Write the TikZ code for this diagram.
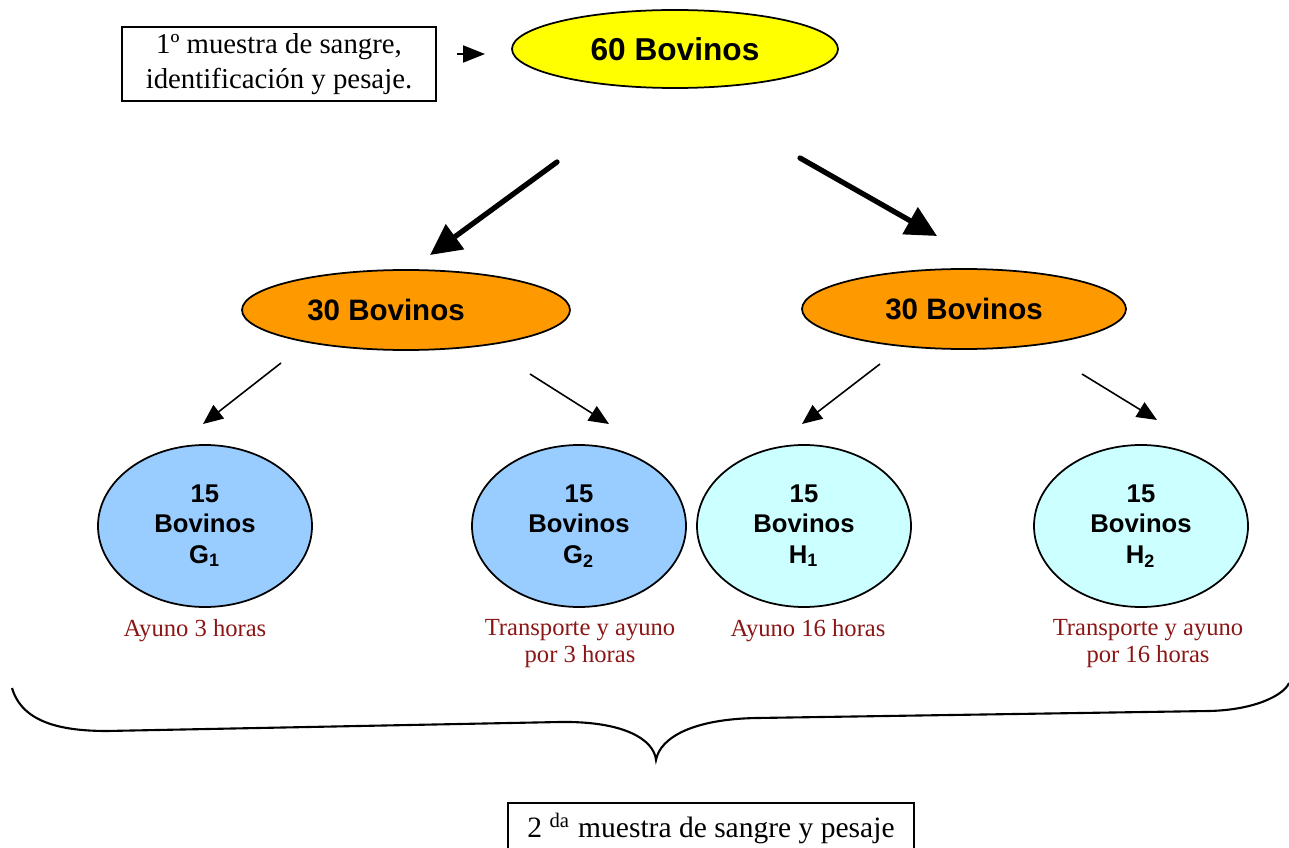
\documentclass[tikz,border=0pt]{standalone}
\usepackage{fontspec}
\setmainfont{Liberation Serif}
\setsansfont{Liberation Sans}
\usetikzlibrary{shapes.geometric,arrows.meta}
\definecolor{amarillo}{RGB}{255,255,0}
\definecolor{naranja}{RGB}{255,153,0}
\definecolor{celeste}{RGB}{153,204,255}
\definecolor{aguamar}{RGB}{204,255,255}
\definecolor{rojooscuro}{RGB}{140,22,22}

\begin{document}
\begin{tikzpicture}[x=0.1mm,y=-0.1mm,
  caja/.style={draw,line width=0.5pt,inner sep=0pt,align=center,font=\fontsize{8.2}{9.9}\selectfont},
  grupo/.style={ellipse,draw,line width=0.5pt,inner sep=0pt,font=\sffamily\bfseries\fontsize{8.4}{10}\selectfont},
  lote/.style={ellipse,draw,line width=0.5pt,inner sep=0pt,minimum width=21.4mm,minimum height=16.2mm,align=center,font=\sffamily\bfseries\fontsize{7.3}{8.6}\selectfont},
  nota/.style={text=rojooscuro,align=center,inner sep=0pt,font=\fontsize{7}{7.7}\selectfont},
  gruesa/.style={line width=1.5pt,-{Triangle[length=3.1mm,width=3mm]}},
  fina/.style={line width=0.45pt,-{Triangle[length=2mm,width=1.7mm]}}]
\useasboundingbox (0,0) rectangle (1289,848);

% inicio
\node[caja,minimum width=31.4mm,minimum height=7.4mm] (muestra1) at (279,64)
  {1º muestra de sangre,\\identificación y pesaje.};
\node[grupo,fill=amarillo,minimum width=32.6mm,minimum height=7.8mm,font=\sffamily\bfseries\fontsize{9}{10}\selectfont] (total) at (675,49) {60 Bovinos};
\coordinate (p0) at (457,54);
\coordinate (p1) at (485,54);
\draw[line width=0.6pt,-{Triangle[length=2.2mm,width=1.7mm]}] (p0) -- (p1);

% primera division
\node[grupo,fill=naranja,minimum width=32.8mm,minimum height=8mm] (izq) at (406,310) {30 Bovinos\hspace*{4mm}};
\node[grupo,fill=naranja,minimum width=32.4mm,minimum height=8mm] (der) at (964,309) {30 Bovinos};
\coordinate (a0) at (557,162);
\coordinate (a1) at (430,255);
\coordinate (b0) at (800,158);
\coordinate (b1) at (937,236);
\draw[gruesa,line cap=round] (a0) -- (a1);
\draw[gruesa,line cap=round] (b0) -- (b1);

% segunda division
\node[lote,fill=celeste] (g1) at (205,526) {15\\Bovinos\\G\textsubscript{1}};
\node[lote,fill=celeste] (g2) at (579,526) {15\\Bovinos\\G\textsubscript{2}};
\node[lote,fill=aguamar] (h1) at (804,526) {15\\Bovinos\\H\textsubscript{1}};
\node[lote,fill=aguamar] (h2) at (1141,526) {15\\Bovinos\\H\textsubscript{2}};
\coordinate (c0) at (281,363);
\coordinate (c1) at (203,424);
\coordinate (d0) at (530,374);
\coordinate (d1) at (609,424);
\coordinate (e0) at (880,364);
\coordinate (e1) at (802,424);
\coordinate (f0) at (1082,374);
\coordinate (f1) at (1157,420);
\draw[fina] (c0) -- (c1);
\draw[fina] (d0) -- (d1);
\draw[fina] (e0) -- (e1);
\draw[fina] (f0) -- (f1);

% tratamientos
\node[nota] (n1) at (195,631) {Ayuno 3 horas};
\node[nota] (n2) at (580,644) {Transporte y ayuno\\por 3 horas};
\node[nota] (n3) at (808,631) {Ayuno 16 horas};
\node[nota] (n4) at (1148,644) {Transporte y ayuno\\por 16 horas};

% llave
\draw[line width=0.6pt] (12,688) .. controls (22,722) and (60,731) .. (107,731)
  -- (560,722) .. controls (625,721) and (654,740) .. (656,760)
  .. controls (660,738) and (692,719) .. (757,718)
  -- (1209,711) .. controls (1255,710) and (1284,695) .. (1289,683);

% final
\node[caja,minimum width=40.6mm,minimum height=5.2mm,anchor=north,font=\fontsize{8.4}{10}\selectfont] (muestra2) at (711,802)
  {2 \textsuperscript{da} muestra de sangre y pesaje};
\end{tikzpicture}
\end{document}
